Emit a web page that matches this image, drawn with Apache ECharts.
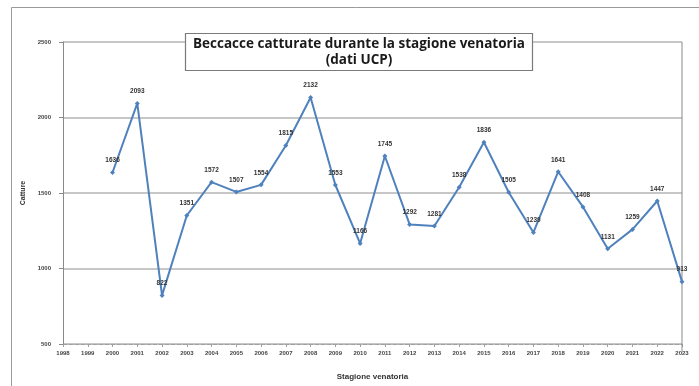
<!DOCTYPE html>
<html>
<head>
<meta charset="utf-8">
<script src="https://cdn.jsdelivr.net/npm/echarts@6/dist/echarts.min.js"></script>
<style>
  html, body { margin: 0; padding: 0; background: #ffffff; overflow: hidden; }
  #chart { width: 699px; height: 386px; }
</style>
</head>
<body>
<div id="chart"></div>
<script>
// Hunting seasons on the category axis
const seasons = ['1998', '1999', '2000', '2001', '2002', '2003', '2004', '2005', '2006', '2007',
  '2008', '2009', '2010', '2011', '2012', '2013', '2014', '2015', '2016', '2017',
  '2018', '2019', '2020', '2021', '2022', '2023'];

// Woodcocks caught per season (no data for the first two seasons)
const catture = [null, null, 1636, 2093, 822, 1351, 1572, 1507, 1554, 1815,
  2132, 1553, 1166, 1745, 1292, 1281, 1538, 1836, 1505, 1239,
  1641, 1408, 1131, 1259, 1447, 913];

// Value axis ticks
const yTicks = [500, 1000, 1500, 2000, 2500];

const chart = echarts.init(document.getElementById('chart'), null, { renderer: 'canvas' });

const option = {
  animation: false,
  backgroundColor: '#ffffff',
  grid: { left: 63, width: 619, top: 42, height: 309, containLabel: false, show: false },
  graphic: [
    {
      type: 'rect', z: -1,
      shape: { x: 11.5, y: 7.5, width: 720, height: 420 },
      style: { fill: 'none', stroke: '#9a9a9a', lineWidth: 1 }
    },
    {
      type: 'line', z: 1,
      shape: { x1: 682, y1: 42, x2: 682, y2: 351 },
      style: { stroke: '#8a8a8a', lineWidth: 1 }
    },
    {
      type: 'rect', z: 10,
      shape: { x: 185.5, y: 33.5, width: 347, height: 37 },
      style: { fill: '#ffffff', stroke: '#7a7a7a', lineWidth: 1.2 }
    },
    {
      type: 'text', z: 11,
      x: 359, y: 36,
      style: {
        text: 'Beccacce catturate durante la stagione venatoria\n(dati UCP)',
        align: 'center', verticalAlign: 'top',
        font: 'bold 13.5px "Open Sans", "Liberation Sans", sans-serif',
        lineHeight: 16, fill: '#1a1a1a'
      }
    }
  ],
  xAxis: {
    type: 'category',
    data: seasons,
    boundaryGap: false,
    name: 'Stagione venatoria',
    nameLocation: 'middle',
    nameGap: 29,
    nameTextStyle: { fontSize: 8, fontWeight: 'bold', color: '#333', fontFamily: 'Liberation Sans' },
    axisLine: { lineStyle: { color: '#a0a0a0', width: 1, type: 'dashed' } },
    axisTick: { show: true, alignWithLabel: true, length: 3, lineStyle: { color: '#a0a0a0' } },
    axisLabel: { fontSize: 6, fontWeight: 'bold', color: '#444', margin: 6, interval: 0, fontFamily: 'Liberation Sans' },
    splitLine: { show: false }
  },
  yAxis: {
    type: 'value',
    min: yTicks[0],
    max: yTicks[yTicks.length - 1],
    interval: 500,
    name: 'Catture',
    nameLocation: 'middle',
    nameRotate: 90,
    nameGap: 24,
    nameTextStyle: { fontSize: 7, fontWeight: 'bold', color: '#333', fontFamily: 'Liberation Sans' },
    axisLine: { show: true, lineStyle: { color: '#8a8a8a', width: 1 } },
    axisTick: { show: true, inside: false, length: 4, lineStyle: { color: '#8a8a8a' } },
    axisLabel: {
      fontSize: 6, fontWeight: 'bold', color: '#444', margin: 12, fontFamily: 'Liberation Sans',
      formatter: v => String(v)
    },
    splitLine: { show: true, lineStyle: { color: '#b4b4b4', width: 1.5 } }
  },
  series: [
    {
      type: 'line',
      data: catture,
      connectNulls: false,
      symbol: 'diamond',
      symbolSize: 5,
      lineStyle: { color: '#4f81bd', width: 2 },
      itemStyle: { color: '#4f81bd' },
      label: {
        show: true,
        position: 'top',
        distance: 6,
        fontSize: 6.5,
        fontWeight: 'bold',
        color: '#333',
        fontFamily: 'Liberation Sans'
      }
    }
  ]
};

chart.setOption(option);
</script>
</body>
</html>
